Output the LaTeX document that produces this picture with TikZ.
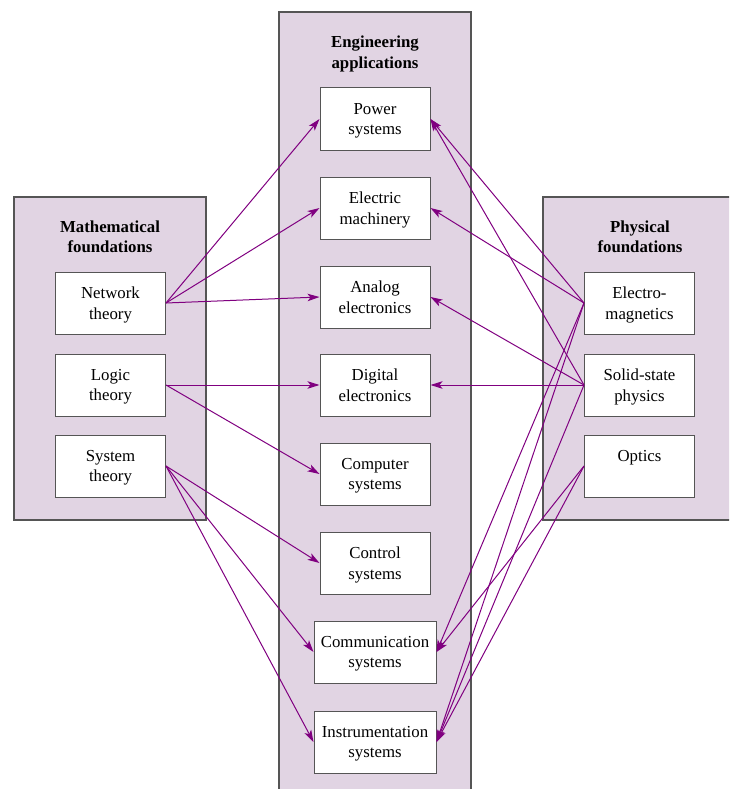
\documentclass[tikz,border=0pt]{standalone}
\usepackage{fontspec}
\setmainfont{Liberation Serif}
\usetikzlibrary{arrows.meta}
\definecolor{panelfill}{RGB}{225,212,227}
\definecolor{linkpurple}{RGB}{128,0,128}
\definecolor{edgegray}{RGB}{85,85,85}
\tikzset{
  panel/.style={draw=edgegray,fill=panelfill,line width=1.2pt},
  topic/.style={draw=edgegray,fill=white,line width=1pt,minimum width=110pt,
    minimum height=62pt,align=center,inner sep=2pt,text depth=0pt,
    font=\fontsize{16.8}{20.5}\selectfont},
  widetopic/.style={topic,minimum width=122pt},
  heading/.style={align=center,font=\fontsize{16.8}{20.5}\selectfont\bfseries},
  link/.style={linkpurple,line width=1pt,-{Stealth[length=12pt,width=7.5pt,inset=3pt]}}
}
\begin{document}
\begin{tikzpicture}[x=1pt,y=-1pt]
\path[use as bounding box] (0,0) rectangle (729,789);
\clip (0,0) rectangle (729,789);
% the three panels
\draw[panel] (14,197) rectangle (206,520);
\draw[panel] (279,12) rectangle (471,800);
\draw[panel] (543,197) rectangle (740,520);
\node[heading] (mathhead) at (110,237) {Mathematical\\foundations};
\node[heading] (apphead) at (375,54) {Engineering\\applications};
\node[heading] (physhead) at (640,237) {Physical\\foundations};
% engineering applications
\node[topic] (pow) at (375,119) {Power\\systems};
\node[topic] (mach) at (375,208) {Electric\\machinery};
\node[topic] (ana) at (375,297) {Analog\\electronics};
\node[topic] (dig) at (375,385) {Digital\\electronics};
\node[topic] (comp) at (375,474) {Computer\\systems};
\node[topic] (ctrl) at (375,563) {Control\\systems};
\node[widetopic] (comm) at (375,652) {Communication\\systems};
\node[widetopic] (instr) at (375,742) {Instrumentation\\systems};
% foundations
\node[topic] (net) at (110.5,303) {Network\\theory};
\node[topic] (logic) at (110.5,385) {Logic\\theory};
\node[topic] (sys) at (110.5,466) {System\\theory};
\node[topic] (em) at (639.5,303) {Electro-\\magnetics};
\node[topic] (ss) at (639.5,385) {Solid-state\\physics};
\node[topic] (opt) at (639.5,466) {Optics\\\mbox{}};
% links
\foreach \a/\b in {net/pow,net/mach,net/ana,logic/dig,logic/comp,
                   sys/ctrl,sys/comm,sys/instr}
  \draw[link] (\a.east) -- (\b.west);
\foreach \a/\b in {em/pow,ss/pow,em/mach,ss/ana,ss/dig,
                   em/comm,em/instr,ss/instr,opt/comm,opt/instr}
  \draw[link] (\a.west) -- (\b.east);
\end{tikzpicture}
\end{document}
